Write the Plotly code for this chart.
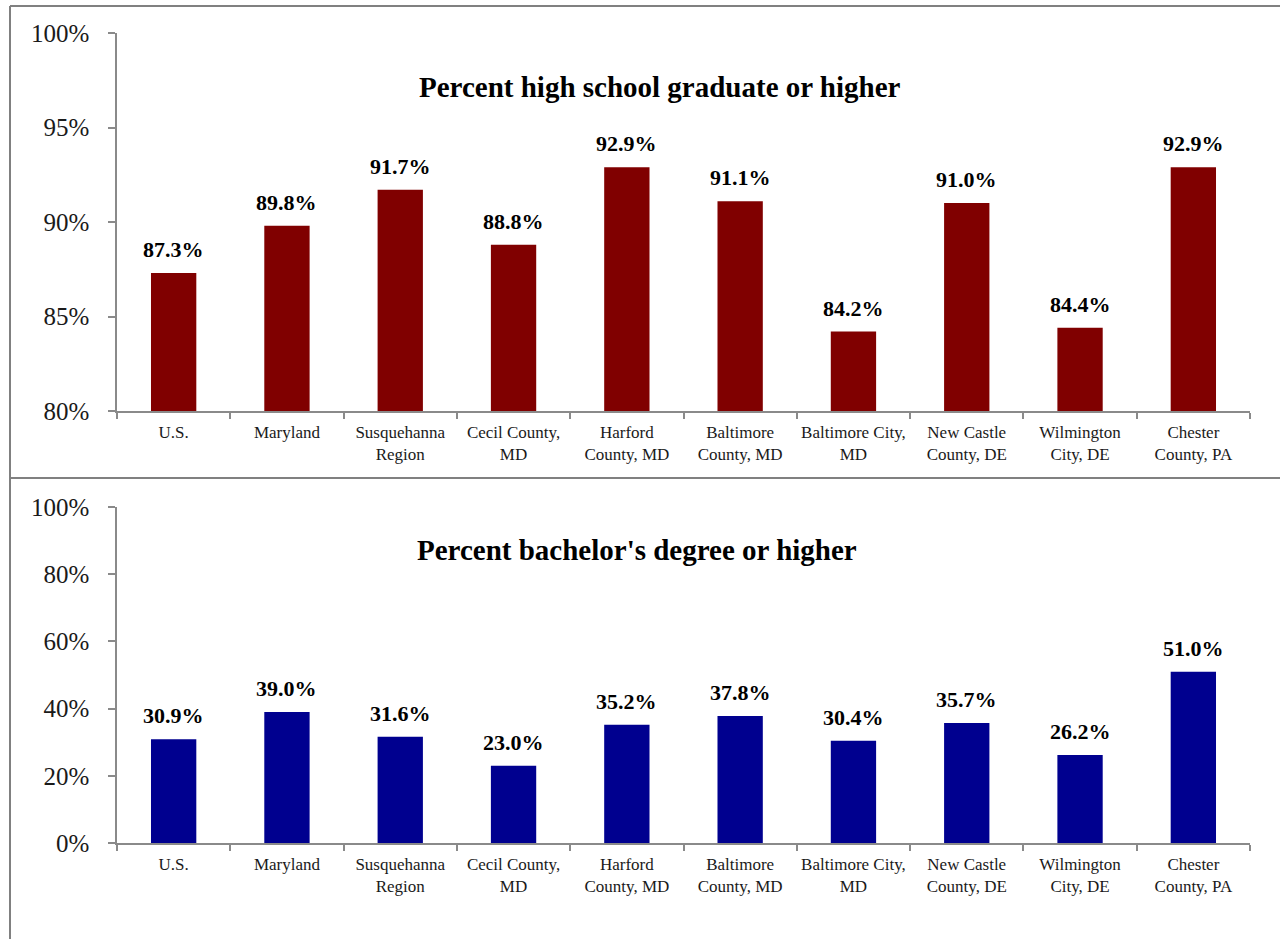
import plotly.graph_objects as go

# Regions compared
categories = [
    "U.S.", "Maryland", "Susquehanna<br>Region", "Cecil County,<br>MD",
    "Harford<br>County, MD", "Baltimore<br>County, MD", "Baltimore City,<br>MD",
    "New Castle<br>County, DE", "Wilmington<br>City, DE", "Chester<br>County, PA",
]

# Educational attainment, percent of population
hs_grad_or_higher = [87.3, 89.8, 91.7, 88.8, 92.9, 91.1, 84.2, 91.0, 84.4, 92.9]
bachelors_or_higher = [30.9, 39.0, 31.6, 23.0, 35.2, 37.8, 30.4, 35.7, 26.2, 51.0]

top_title = "Percent high school graduate or higher"
bottom_title = "Percent bachelor's degree or higher"

W, H = 1280, 939
FONT = "Liberation Serif, serif"
AXIS_GRAY = "#8a8a8a"


def px_x(v):
    return v / W


def px_y(v):
    return 1 - v / H


fig = go.Figure()
fig.add_trace(go.Bar(x=categories, y=hs_grad_or_higher, marker_color="#800000",
                     marker_line_width=0, xaxis="x", yaxis="y", hoverinfo="skip"))
fig.add_trace(go.Bar(x=categories, y=bachelors_or_higher, marker_color="#00008f",
                     marker_line_width=0, xaxis="x2", yaxis="y2", hoverinfo="skip"))

annotations = []
for xa, ya, vals in (("x", "y", hs_grad_or_higher), ("x2", "y2", bachelors_or_higher)):
    for c, v in zip(categories, vals):
        annotations.append(dict(
            x=c, y=v, xref=xa, yref=ya, text=f"<b>{v:.1f}%</b>", showarrow=False,
            yanchor="bottom", yshift=9,
            font=dict(family=FONT, size=22, color="#000000"),
        ))

annotations.append(dict(x=px_x(660), y=px_y(87), xref="paper", yref="paper",
                        xanchor="center", yanchor="middle",
                        text=f"<b>{top_title}</b>", showarrow=False,
                        font=dict(family=FONT, size=29, color="#000000")))
annotations.append(dict(x=px_x(637), y=px_y(550), xref="paper", yref="paper",
                        xanchor="center", yanchor="middle",
                        text=f"<b>{bottom_title}</b>", showarrow=False,
                        font=dict(family=FONT, size=29, color="#000000")))

xaxis_common = dict(
    domain=[px_x(117), px_x(1250)], showline=True, linecolor=AXIS_GRAY, linewidth=1.5,
    ticks="outside", ticklen=6, tickcolor=AXIS_GRAY, tickwidth=1.5,
    tickson="boundaries", showgrid=False, zeroline=False, tickangle=0,
    automargin=False,
    tickfont=dict(family=FONT, size=17, color="#1a1a1a"), ticklabelstandoff=5,
)
yaxis_common = dict(
    showline=True, linecolor=AXIS_GRAY, linewidth=1.5, ticks="outside", ticklen=7,
    tickcolor=AXIS_GRAY, tickwidth=1.5, showgrid=False, zeroline=False,
    automargin=False,
    ticksuffix="%", tickfont=dict(family=FONT, size=25, color="#1a1a1a"),
    ticklabelstandoff=14,
)

line = dict(color="#808080", width=2)
shapes = [
    dict(type="line", xref="paper", yref="paper", x0=px_x(10), x1=px_x(10),
         y0=0, y1=px_y(6), line=line),
    dict(type="line", xref="paper", yref="paper", x0=px_x(10), x1=1,
         y0=px_y(6), y1=px_y(6), line=line),
    dict(type="line", xref="paper", yref="paper", x0=px_x(10), x1=1,
         y0=px_y(478), y1=px_y(478), line=line),
]

fig.update_layout(
    template="none",
    width=W, height=H, margin=dict(l=0, r=0, t=0, b=0, pad=0),
    font=dict(family=FONT, color="#1a1a1a"),
    paper_bgcolor="white", plot_bgcolor="white", showlegend=False,
    bargap=0.6,
    xaxis=dict(**xaxis_common, anchor="y"),
    yaxis=dict(**yaxis_common, domain=[px_y(411), px_y(33)], range=[80, 100],
               dtick=5, anchor="x"),
    xaxis2=dict(**xaxis_common, anchor="y2"),
    yaxis2=dict(**yaxis_common, domain=[px_y(843), px_y(507)], range=[0, 100],
                dtick=20, anchor="x2"),
    annotations=annotations,
    shapes=shapes,
)

fig.write_html("out.html")
